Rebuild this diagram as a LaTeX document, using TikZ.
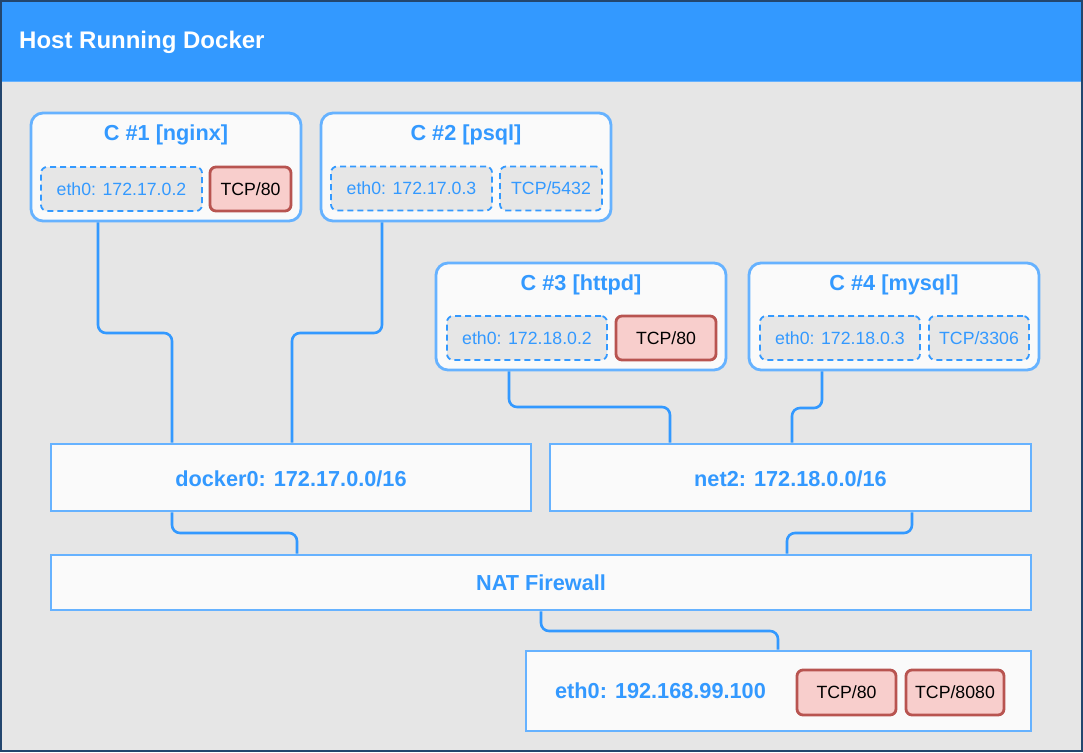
\documentclass[tikz,border=0pt]{standalone}
\usepackage{fontspec}
\setmainfont{Liberation Sans}
\definecolor{bg}{HTML}{E6E6E6}
\definecolor{hdr}{HTML}{3399FF}
\definecolor{lb}{HTML}{66B2FF}
\definecolor{db}{HTML}{3399FF}
\definecolor{boxfill}{HTML}{FAFAFA}
\definecolor{redfill}{HTML}{F8CECC}
\definecolor{redline}{HTML}{B85450}
\definecolor{outer}{HTML}{23466E}
\tikzset{
  cont/.style={draw=lb, fill=boxfill, line width=2.8pt, rounded corners=12pt, inner sep=0pt},
  bar/.style={draw=lb, fill=boxfill, line width=2.8pt, inner sep=0pt},
  dbox/.style={draw=db, fill=bg, line width=1.8pt, dash pattern=on 6pt off 4pt, rounded corners=6pt, inner sep=0pt, text=db, font=\fontsize{17.7}{20}\selectfont},
  rbox/.style={draw=redline, fill=redfill, line width=2.8pt, rounded corners=6pt, inner sep=0pt, text=black, font=\fontsize{17.7}{20}\selectfont},
  ttl/.style={text=db, font=\bfseries\fontsize{21.7}{24}\selectfont, inner sep=0pt},
  conn/.style={draw=db, line width=2.6pt, rounded corners=8pt},
}
\begin{document}
\begin{tikzpicture}[x=1pt,y=-1pt]
\useasboundingbox (0,0) rectangle (1083,752);
\fill[bg] (0,0) rectangle (1083,752);
\fill[hdr] (1,1) rectangle (1082,81);
\draw[lb, line width=1pt] (1,81) -- (1082,81);
\draw[outer, line width=2pt] (1,1) rectangle (1082,751);
\node[anchor=west, text=white, font=\bfseries\fontsize{24}{27}\selectfont, inner sep=0pt] (hosttitle) at (19,42) {Host Running Docker};

% containers
\node[cont, minimum width=270pt, minimum height=108pt] (c1) at (166,167) {};
\node[ttl] (c1t) at (166,135) {C \#1 [nginx]};
\node[dbox, minimum width=161pt, minimum height=44pt] (c1e) at (121.5,189) {eth0: 172.17.0.2};
\node[rbox, minimum width=81pt, minimum height=44pt] (c1p) at (250.5,189) {TCP/80};

\node[cont, minimum width=290pt, minimum height=108pt] (c2) at (466,167) {};
\node[ttl] (c2t) at (466,135) {C \#2 [psql]};
\node[dbox, minimum width=161pt, minimum height=44pt] (c2e) at (411.5,188.5) {eth0: 172.17.0.3};
\node[dbox, minimum width=102pt, minimum height=44pt] (c2p) at (551,188.5) {TCP/5432};

\node[cont, minimum width=290pt, minimum height=107pt] (c3) at (581,316.5) {};
\node[ttl] (c3t) at (581,285) {C \#3 [httpd]};
\node[dbox, minimum width=160pt, minimum height=44pt] (c3e) at (527,338) {eth0: 172.18.0.2};
\node[rbox, minimum width=100pt, minimum height=44pt] (c3p) at (666,338) {TCP/80};

\node[cont, minimum width=290pt, minimum height=107pt] (c4) at (894,316.5) {};
\node[ttl] (c4t) at (894,285) {C \#4 [mysql]};
\node[dbox, minimum width=160pt, minimum height=44pt] (c4e) at (840,338) {eth0: 172.18.0.3};
\node[dbox, minimum width=100pt, minimum height=44pt] (c4p) at (979,338) {TCP/3306};

% bars
\node[bar, minimum width=480pt, minimum height=67pt] (d0) at (291,477.5) {};
\node[ttl] (d0t) at (291,478.5) {docker0: 172.17.0.0/16};
\node[bar, minimum width=481pt, minimum height=67pt] (n2) at (790.5,477.5) {};
\node[ttl] (n2t) at (790.5,478.5) {net2: 172.18.0.0/16};
\node[bar, minimum width=980pt, minimum height=55pt] (nat) at (541,582.5) {};
\node[ttl] (natt) at (541,583) {NAT Firewall};
\node[bar, minimum width=505pt, minimum height=80pt] (he) at (778.5,691) {};
\node[ttl] (het) at (660.5,691) {eth0: 192.168.99.100};
\node[rbox, minimum width=99pt, minimum height=45pt] (hp1) at (846.5,692.5) {TCP/80};
\node[rbox, minimum width=98pt, minimum height=45pt] (hp2) at (955,692.5) {TCP/8080};

% connectors
\draw[conn] (c1.south -| 98,0) -- (98,333) -- (172,333) -- (d0.north -| 172,0);
\draw[conn] (c2.south -| 382,0) -- (382,333) -- (292,333) -- (d0.north -| 292,0);
\draw[conn] (c3.south -| 509,0) -- (509,407) -- (670,407) -- (n2.north -| 670,0);
\draw[conn] (c4.south -| 822,0) -- (822,408) -- (792,408) -- (n2.north -| 792,0);
\draw[conn] (d0.south -| 172,0) -- (172,533) -- (297,533) -- (nat.north -| 297,0);
\draw[conn] (n2.south -| 912,0) -- (912,533) -- (787,533) -- (nat.north -| 787,0);
\draw[conn] (nat.south -| 541,0) -- (541,631) -- (778,631) -- (he.north -| 778,0);
\end{tikzpicture}
\end{document}
